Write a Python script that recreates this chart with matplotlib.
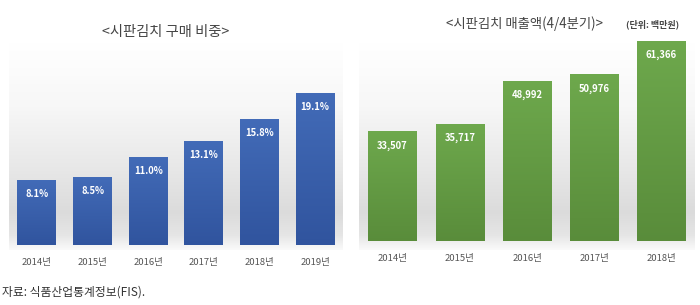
import matplotlib.pyplot as plt
import numpy as np

plt.rcParams['font.family'] = ['Noto Sans CJK KR', 'DejaVu Sans']

years_share = ["2014년", "2015년", "2016년", "2017년", "2018년", "2019년"]
share = [8.1, 8.5, 11.0, 13.1, 15.8, 19.1]

years_sales = ["2014년", "2015년", "2016년", "2017년", "2018년"]
sales = [33507, 35717, 48992, 50976, 61366]

W, H = 700, 305
fig = plt.figure(figsize=(W / 100, H / 100), dpi=100)


def px_axes(x0, y0, x1, y1):
    return fig.add_axes([x0 / W, 1 - y1 / H, (x1 - x0) / W, (y1 - y0) / H])


def background(x0, y0, x1, y1):
    # light grey vertical fade behind the bars
    bg = px_axes(x0, y0, x1, y1)
    t = np.linspace(0, 1, 300)
    g = np.interp(t, [0, 0.3, 0.6, 0.82, 0.93, 1.0], [1.0, 0.97, 0.91, 0.86, 0.9, 0.98])
    img = np.repeat(g[:, None, None], 3, axis=2)
    bg.imshow(img, extent=[0, 1, 0, 1], aspect="auto", origin="upper")
    bg.axis("off")


def bars(ax, vals, width, c_top, c_bot, labels):
    ymin, ymax = ax.get_ylim()
    for xi, v, lab in zip(range(len(vals)), vals, labels):
        grad = np.linspace(0, 1, 100)[:, None, None]
        img = np.array(c_top) * (1 - grad) + np.array(c_bot) * grad
        ax.imshow(img, extent=[xi - width / 2, xi + width / 2, 0, v],
                  aspect="auto", origin="upper", zorder=2)
        ax.text(xi, v - (ymax - ymin) * 0.065, lab, ha="center", va="center",
                color="white", fontsize=6.8, fontweight="bold", zorder=3)
    ax.set_xlim(-0.5, len(vals) - 0.5)
    ax.set_ylim(ymin, ymax)
    ax.axis("off")


# left chart
background(9, 43, 343, 250)
ax1 = px_axes(9, 43, 343, 250)
ax1.patch.set_alpha(0)
ax1.set_ylim(-0.6, 25.5)
bars(ax1, share, 0.7, (0.26, 0.42, 0.72), (0.19, 0.33, 0.62),
     [f"{v:.1f}%" for v in share])
for i, y in enumerate(years_share):
    ax1.text(i, -0.6 - 13 / 207 * 26.1, y, ha="center", va="center",
             color="#555555", fontsize=6.8)
fig.text(166 / W, 1 - 32 / H, "<시판김치 구매 비중>", ha="center", va="center",
         color="#444444", fontsize=10.3)

# right chart
background(359, 43, 695, 250)
ax2 = px_axes(359, 41, 695, 250)
ax2.patch.set_alpha(0)
ax2.set_ylim(-2760, 61400)
bars(ax2, sales, 0.72, (0.43, 0.66, 0.30), (0.35, 0.55, 0.23),
     [f"{v:,}" for v in sales])
for i, y in enumerate(years_sales):
    ax2.text(i, -2760 - 9 / 209 * 64160, y, ha="center", va="center",
             color="#555555", fontsize=6.8)
fig.text(524 / W, 1 - 24 / H, "<시판김치 매출액(4/4분기)>", ha="center", va="center",
         color="#444444", fontsize=9.6)
fig.text(653 / W, 1 - 24 / H, "(단위: 백만원)", ha="center", va="center",
         color="#444444", fontsize=6.5, fontweight="bold")

fig.text(2 / W, 1 - 292 / H, "자료: 식품산업통계정보(FIS).", ha="left", va="center",
         color="#333333", fontsize=8.5)

fig.savefig("out.png", dpi=100)
